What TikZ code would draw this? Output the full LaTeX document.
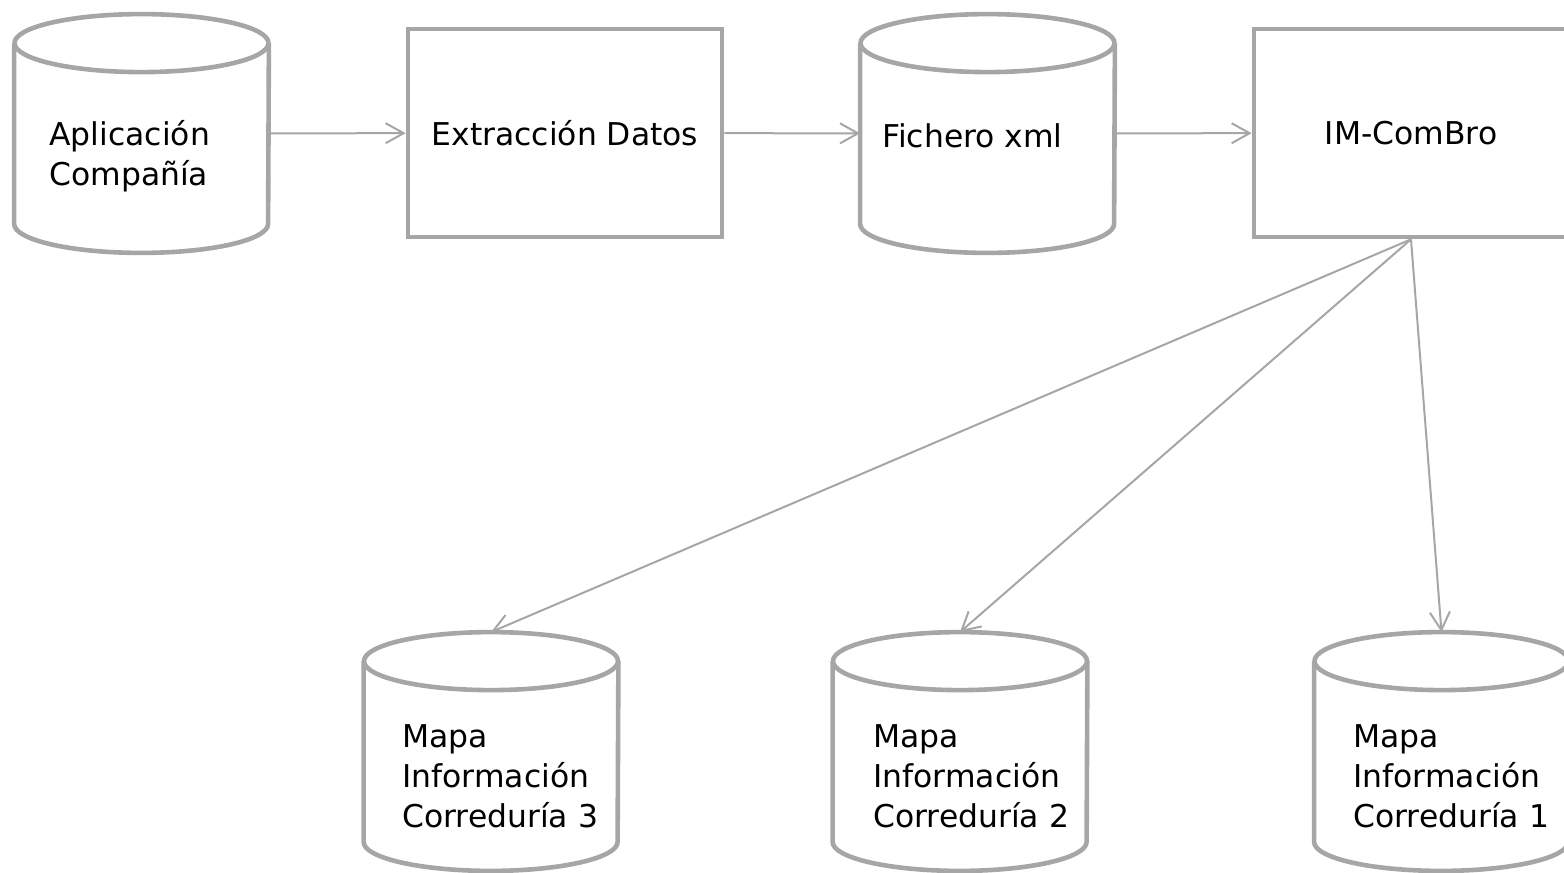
\documentclass[tikz,border=0pt]{standalone}
\usepackage{fontspec}
\setmainfont{DejaVu Sans}
\usepackage{tikz}
\usetikzlibrary{positioning, arrows.meta}
\usepackage{xcolor}

\definecolor{linegray}{RGB}{166,166,166}
\newcommand{\storerx}{63.5pt}
\newcommand{\storery}{14.5pt}

\begin{document}
\begin{tikzpicture}[
    x=0.5pt, y=-0.5pt,
    >={Straight Barb[length=9pt, width=10pt]},
    every node/.style={font=\fontsize{15.7}{20}\selectfont},
    store/.style={rectangle, minimum width=127pt, minimum height=119pt, inner sep=0pt},
    cyl/.style={draw=linegray, line width=2.3pt, line join=round},
    task/.style={rectangle, draw=linegray, line width=2.3pt,
        minimum width=157pt, minimum height=104pt, inner sep=0pt},
    txt/.style={align=left, inner sep=0pt, anchor=base west},
    flow/.style={->, color=linegray, line width=1pt}
]
    \useasboundingbox (0,0) rectangle (1564,873);

    % top row: source, extraction, xml file, IM-ComBro
    \node[store] (app) at (141.5,133.5) {};
    \node[task] (extr) at (565,133) {Extracción Datos};
    \node[store] (xml) at (987.5,133.5) {};
    \node[task] (im) at (1411,133) {IM-ComBro};

    % bottom row: one map per broker
    \node[store] (c3) at (491,751.5) {};
    \node[store] (c2) at (960,751.5) {};
    \node[store] (c1) at (1441.5,751.5) {};

    % cylinder outlines round the store nodes
    \foreach \s in {app,xml,c3,c2,c1} {
        \draw[cyl] ([yshift=-\storery]\s.north west) -- ([yshift=\storery]\s.south west)
            arc[start angle=180, end angle=360, x radius=\storerx, y radius=\storery]
            -- ([yshift=-\storery]\s.north east);
        \draw[cyl] ([yshift=-\storery]\s.north) ellipse [x radius=\storerx, y radius=\storery];
    }

    % texts inside the cylinders
    \node[txt] (app-txt) at (49,185) {Aplicación\\Compañía};
    \node[txt] (xml-txt) at (882,147) {Fichero xml};
    \node[txt] (c3-txt) at (402,827) {Mapa\\Información\\Correduría 3};
    \node[txt] (c2-txt) at (873,827) {Mapa\\Información\\Correduría 2};
    \node[txt] (c1-txt) at (1353,827) {Mapa\\Información\\Correduría 1};

    \path[flow]
        (app) edge (extr)
        (extr) edge (xml)
        (xml) edge (im)
        (im.south) edge (c3.north)
        (im.south) edge (c2.north)
        (im.south) edge (c1.north);
\end{tikzpicture}
\end{document}
